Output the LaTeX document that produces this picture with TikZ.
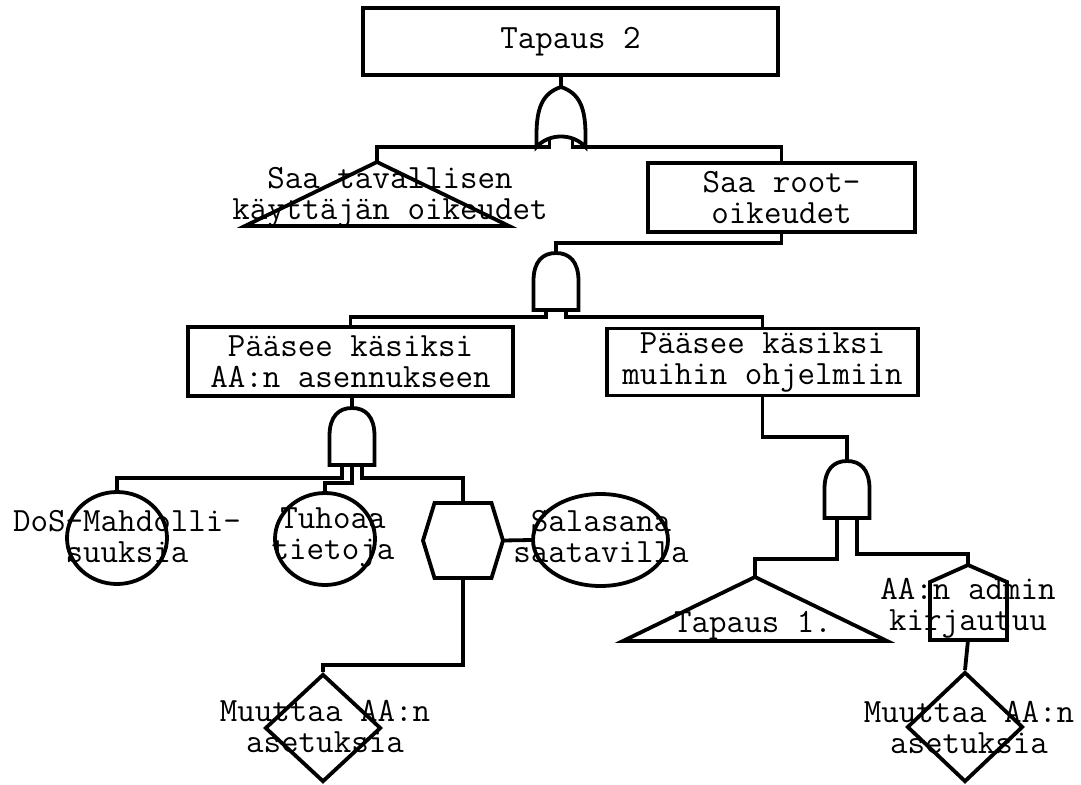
\documentclass[tikz,border=0pt]{standalone}
\usepackage{fontspec}
\usetikzlibrary{shapes.geometric}
\tikzset{
  treeline/.style={line width=3.8pt, line join=miter},
  treetext/.style={align=center, inner sep=0pt, font=\ttfamily\fontsize{34}{31}\selectfont},
  treebox/.style={treeline, draw, rectangle, treetext},
  treeell/.style={treeline, draw, ellipse, inner sep=0pt, minimum width=100pt, minimum height=92pt},
  treedia/.style={treeline, draw, diamond, inner sep=0pt, minimum width=116pt, minimum height=108pt},
  andgate/.pic={
    \draw[treeline] (-22.5,57) -- (-22.5,28) .. controls (-22.5,8) and (-13,0) .. (0,0)
      .. controls (13,0) and (22.5,8) .. (22.5,28) -- (22.5,57) -- cycle;
    \coordinate (-out) at (0,0);
    \coordinate (-in1) at (-10,57);
    \coordinate (-inm) at (0,57);
    \coordinate (-in2) at (10,57);
  },
  orgate/.pic={
    \draw[treeline] (0,0) .. controls (-18,6) and (-24.5,20) .. (-24.5,48) -- (-24.5,60)
      .. controls (-12,46) and (12,46) .. (24.5,60) -- (24.5,48)
      .. controls (24.5,20) and (18,6) .. (0,0) -- cycle;
    \coordinate (-out) at (0,0);
    \coordinate (-in1) at (-11.5,53);
    \coordinate (-in2) at (11.5,53);
  },
  transfer/.pic={
    \draw[treeline] (0,0) -- (-132,64) -- (132,64) -- cycle;
    \coordinate (-top) at (0,0);
  },
  inhibit/.pic={
    \draw[treeline] (-28.5,0) -- (28.5,0) -- (40,37.5) -- (28.5,75) -- (-28.5,75) -- (-40,37.5) -- cycle;
    \coordinate (-top) at (0,0);
    \coordinate (-bot) at (0,75);
    \coordinate (-right) at (40,37.5);
  },
  house/.pic={
    \draw[treeline] (-38,75) -- (-38,17) -- (0,0) -- (39,17) -- (39,75) -- cycle;
    \coordinate (-top) at (0,0);
    \coordinate (-bot) at (0,75);
  },
}
\begin{document}
\begin{tikzpicture}[x=1pt, y=-1pt]
  \useasboundingbox[fill=white] (0,0) rectangle (1081,784);
  % top event and first gate
  \node[treebox, minimum width=415pt, minimum height=67pt] (top) at (570.5,41.5) {Tapaus 2};
  \pic (or) at (561,87) {orgate};
  \pic (tri1) at (377,162) {transfer};
  \node[treetext] (tri1txt) at (390,197) {Saa tavallisen\\käyttäjän oikeudet};
  \node[treebox, minimum width=267pt, minimum height=69pt] (root) at (781.5,197.5) {Saa root-\\oikeudet};
  % second level
  \pic (a1) at (556,253) {andgate};
  \node[treebox, minimum width=325pt, minimum height=69pt] (p1) at (350.5,361.5) {Pääsee käsiksi\\AA:n asennukseen};
  \node[treebox, minimum width=311pt, minimum height=67pt] (p2) at (762.5,362) {Pääsee käsiksi\\muihin ohjelmiin};
  % left branch
  \pic (a2) at (352,408) {andgate};
  \node[treeell] (dos) at (117,538) {};
  \node[treetext] (dostxt) at (127,537) {DoS-Mahdolli-\\suuksia};
  \node[treeell] (tuho) at (325,539) {};
  \node[treetext] (tuhotxt) at (333,537) {Tuhoaa\\tietoja};
  \pic (hex) at (463,503) {inhibit};
  \node[treeell, minimum width=135pt] (sala) at (600.5,540) {};
  \node[treetext] (salatxt) at (601,537) {Salasana\\saatavilla};
  \node[treedia] (muut1) at (323,728) {};
  \node[treetext] (muut1txt) at (325,726) {Muuttaa AA:n\\asetuksia};
  % right branch
  \pic (a3) at (847,461) {andgate};
  \pic (tri2) at (755,577) {transfer};
  \node[treetext] (tri2txt) at (753,626) {Tapaus 1.};
  \pic (pent) at (968,565) {house};
  \node[treetext] (penttxt) at (968,608) {AA:n admin\\kirjautuu};
  \node[treedia, minimum height=110pt] (muut2) at (965,727) {};
  \node[treetext] (muut2txt) at (969,727) {Muuttaa AA:n\\asetuksia};
  % connectors
  \draw[treeline] (or-out) -- (or-out |- top.south);
  \draw[treeline] (or-in1) -- ++(0,7) -| (tri1-top);
  \draw[treeline] (or-in2) -- ++(0,7) -| (root.north);
  \draw[treeline] (a1-out) -- ++(0,-10) -| (root.south);
  \draw[treeline] (a1-in1) -- ++(0,7) -| (p1.north);
  \draw[treeline] (a1-in2) -- ++(0,7) -| (p2.north);
  \draw[treeline] (a2-out) -- (a2-out |- p1.south);
  \draw[treeline] (a2-in1) -- ++(0,13) -| (dos.north);
  \draw[treeline] (a2-inm) -- ++(0,18) -| (tuho.north);
  \draw[treeline] (a2-in2) -- ++(0,13) -| (hex-top);
  \draw[treeline] (hex-right) -- (sala.west);
  \draw[treeline] (hex-bot) -- ++(0,87) -| (muut1.north);
  \draw[treeline] (a3-out) -- ++(0,-24) -| (p2.south);
  \draw[treeline] (a3-in1) -- ++(0,41) -| (tri2-top);
  \draw[treeline] (a3-in2) -- ++(0,36) -| (pent-top);
  \draw[treeline] (pent-bot) -- (muut2.north);
\end{tikzpicture}
\end{document}
